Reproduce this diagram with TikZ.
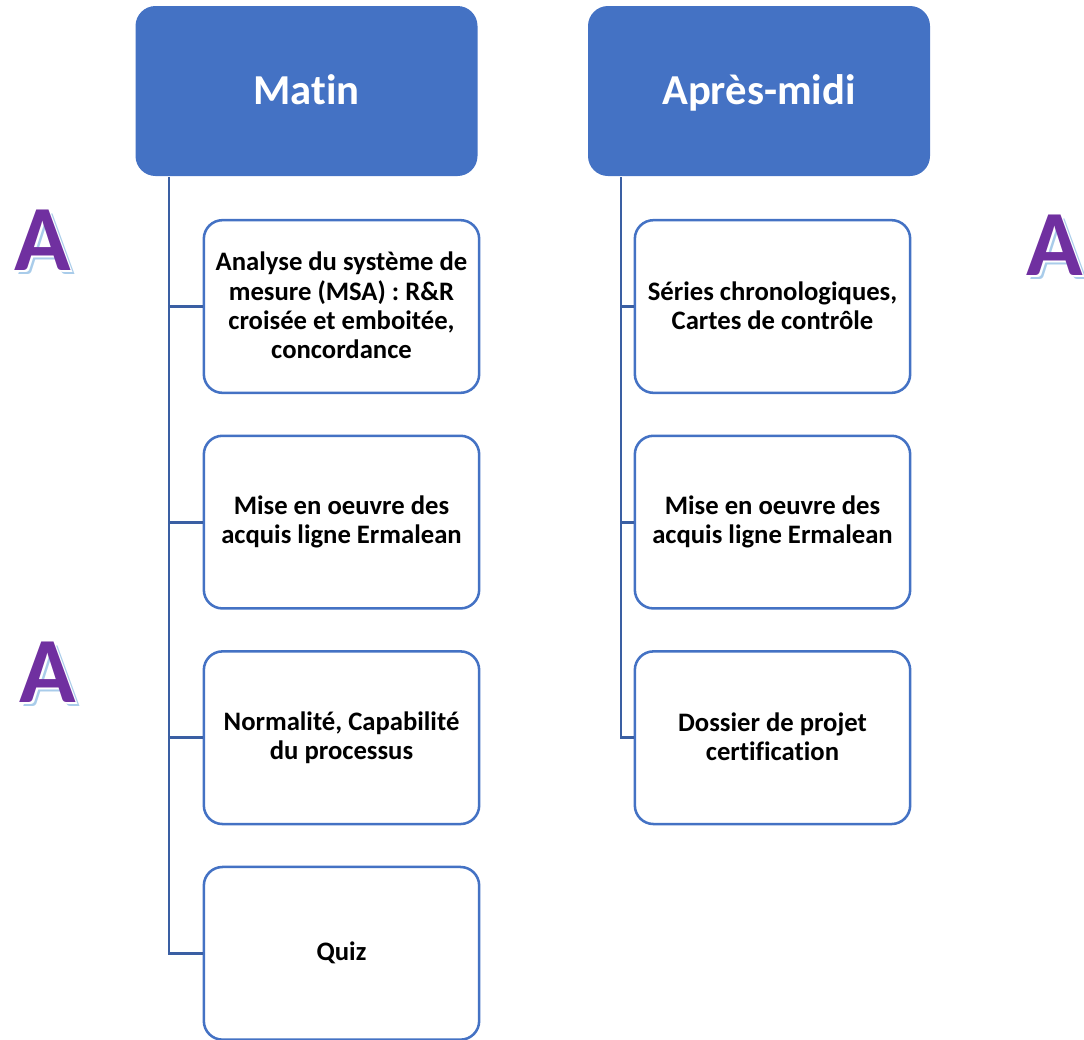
\documentclass[tikz,border=0pt]{standalone}
\usepackage{fontspec}
\setmainfont{Carlito}[Ligatures=NoCommon]
\usetikzlibrary{positioning}
\definecolor{headBlue}{HTML}{4472C4}
\definecolor{trunkBlue}{HTML}{3A5FA3}
\definecolor{letterPurple}{HTML}{7030A0}
\definecolor{letterShadow}{HTML}{A9CCEA}
\newcommand{\pxUnit}{0.75pt}
\newcommand{\boxGap}{30.3pt}
\newcommand{\lowStrut}{\rule[-1.5pt]{0pt}{1.5pt}}
\tikzset{
  headbox/.style={fill=headBlue, rounded corners=15pt, minimum width=256.5pt, minimum height=127.5pt,
    inner sep=0pt, text=white, text height=27.5pt, text depth=7pt, font=\fontsize{32}{38}\selectfont\bfseries},
  itembox/.style={draw=headBlue, line width=1.9pt, fill=white, rounded corners=14pt, minimum width=206.5pt,
    minimum height=129.5pt, inner sep=0pt, align=center, font=\fontsize{20}{22}\selectfont\bfseries,
    execute at end node=\lowStrut},
  branch/.style={draw=trunkBlue, line width=2.2pt},
  letter/.style={inner sep=0pt, font=\fontsize{70}{70}\selectfont\bfseries},
}
\newcommand{\shadowLetter}[3]{%
  \node (#1s) [letter, text=letterShadow] at (#2+4,#3+4) {A};
  \node (#1w) [letter, text=white] at (#2+1.8,#3+1.8) {A};
  \node (#1) [letter, text=letterPurple] at (#2,#3) {A};
}
\begin{document}
\begin{tikzpicture}[x=\pxUnit, y=-\pxUnit]
\useasboundingbox (0,0) rectangle (1084,1039);

\node (headMatin) [headbox] at (306.5,91) {Matin};
\node (headMidi) [headbox] at (759,91) {Après-midi};

\node (boxMsa) [itembox] at (341.5,306.5) {Analyse du système de\\mesure (MSA) : R\&R\\croisée et emboitée,\\concordance};
\node (boxAcquis) [itembox, below=\boxGap of boxMsa] {Mise en oeuvre des\\acquis ligne Ermalean};
\node (boxNormal) [itembox, below=\boxGap of boxAcquis] {Normalité, Capabilité\\du processus};
\node (boxQuiz) [itembox, below=\boxGap of boxNormal] {Quiz};

\node (boxSeries) [itembox] at (772.5,306.5) {Séries chronologiques,\\Cartes de contrôle};
\node (boxOeuvre) [itembox, below=\boxGap of boxSeries] {Mise en oeuvre des\\acquis ligne Ermalean};
\node (boxDossier) [itembox, below=\boxGap of boxOeuvre] {Dossier de projet\\certification};

\coordinate (rootMatin) at (169,177);
\coordinate (rootMidi) at (621,177);

\foreach \target in {boxMsa,boxAcquis,boxNormal,boxQuiz}
  \draw [branch] (rootMatin) |- (\target.west);
\foreach \target in {boxSeries,boxOeuvre,boxDossier}
  \draw [branch] (rootMidi) |- (\target.west);

\shadowLetter{letterOne}{42.5}{240}
\shadowLetter{letterTwo}{48}{672}
\shadowLetter{letterThree}{1055}{245}
\end{tikzpicture}
\end{document}
